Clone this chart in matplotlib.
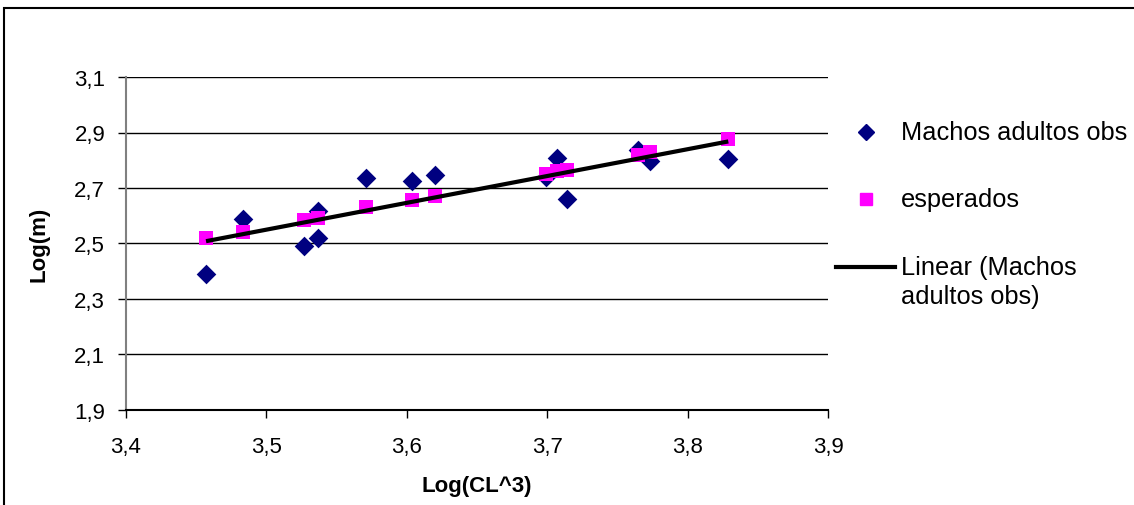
import numpy as np
import matplotlib.pyplot as plt
from matplotlib.lines import Line2D
from matplotlib.patches import Rectangle
from matplotlib.ticker import FuncFormatter

plt.rcParams["font.family"] = ["Liberation Sans", "DejaVu Sans"]

# Log(CL^3) for each adult male
log_cl3 = [3.457, 3.483, 3.527, 3.537, 3.537, 3.571, 3.604, 3.620,
           3.699, 3.707, 3.714, 3.765, 3.773, 3.829]
# observed Log(m)
log_m_obs = [2.390, 2.588, 2.491, 2.520, 2.617, 2.736, 2.725, 2.747,
             2.740, 2.808, 2.660, 2.837, 2.797, 2.804]
# expected Log(m)
log_m_exp = [2.520, 2.541, 2.585, 2.592, 2.592, 2.632, 2.657, 2.671,
             2.752, 2.760, 2.766, 2.820, 2.828, 2.877]

x_ticks = [3.4, 3.5, 3.6, 3.7, 3.8, 3.9]
y_ticks = [1.9, 2.1, 2.3, 2.5, 2.7, 2.9, 3.1]

NAVY = "#000080"
MAGENTA = "#FF00FF"
W, H = 1134, 506

fig = plt.figure(figsize=(W / 100, H / 100), dpi=100)
ax = fig.add_axes([126 / W, 1 - 411 / H, (828 - 126) / W, (411 - 78) / H])

ax.scatter(log_cl3, log_m_obs, marker="D", s=100, color=NAVY, zorder=3,
           linewidths=0)
ax.scatter(log_cl3, log_m_exp, marker="s", s=100, color=MAGENTA, zorder=4,
           linewidths=0)

# least squares trendline through the observed points
slope, intercept = np.polyfit(log_cl3, log_m_obs, 1)
xs = np.array([min(log_cl3), max(log_cl3)])
ax.plot(xs, slope * xs + intercept, color="black", lw=3, zorder=5,
        solid_capstyle="butt")

ax.set_xlim(3.4, 3.9)
ax.set_ylim(1.9, 3.1)
ax.set_xticks(x_ticks)
ax.set_yticks(y_ticks)
comma = FuncFormatter(lambda v, p: f"{v:.1f}".replace(".", ","))
ax.xaxis.set_major_formatter(comma)
ax.yaxis.set_major_formatter(comma)
ax.tick_params(labelsize=16, length=6, width=1, direction="out")
ax.tick_params(axis="x", pad=13)
ax.tick_params(axis="y", pad=9)

ax.grid(axis="y", color="black", lw=1)
ax.set_axisbelow(True)
for side in ("top", "right"):
    ax.spines[side].set_visible(False)
ax.spines["left"].set_color("#808080")
ax.spines["left"].set_linewidth(1.5)
ax.spines["bottom"].set_color("black")
ax.spines["bottom"].set_linewidth(1.5)

ax.set_xlabel("Log(CL^3)", fontsize=16, fontweight="bold", labelpad=13)
ax.set_ylabel("Log(m)", fontsize=16, fontweight="bold", labelpad=18)

# legend entries placed by hand so the trendline key sits on the first text line
def fx(px):
    return px / W

def fy(py):
    return 1 - py / H

fig.add_artist(Line2D([fx(866)], [fy(133)], marker="D", ls="none",
                      color=NAVY, markersize=8.5, transform=fig.transFigure))
fig.text(fx(901), fy(133), "Machos adultos obs", fontsize=18.3, va="center")
fig.add_artist(Line2D([fx(866)], [fy(200)], marker="s", ls="none",
                      color=MAGENTA, markersize=8.5, transform=fig.transFigure))
fig.text(fx(901), fy(200), "esperados", fontsize=18.3, va="center")
fig.add_artist(Line2D([fx(836), fx(895)], [fy(268), fy(268)], color="black",
                      lw=3, transform=fig.transFigure))
fig.text(fx(901), fy(268), "Linear (Machos", fontsize=18.3, va="center")
fig.text(fx(901), fy(297), "adultos obs)", fontsize=18.3, va="center")

# outer chart frame
fig.patches.append(Rectangle((4 / W, -0.1), 1.2, 1 - 9 / H + 0.1,
                             transform=fig.transFigure, fill=False,
                             edgecolor="black", lw=1.5))

fig.savefig("out.png", dpi=100)
